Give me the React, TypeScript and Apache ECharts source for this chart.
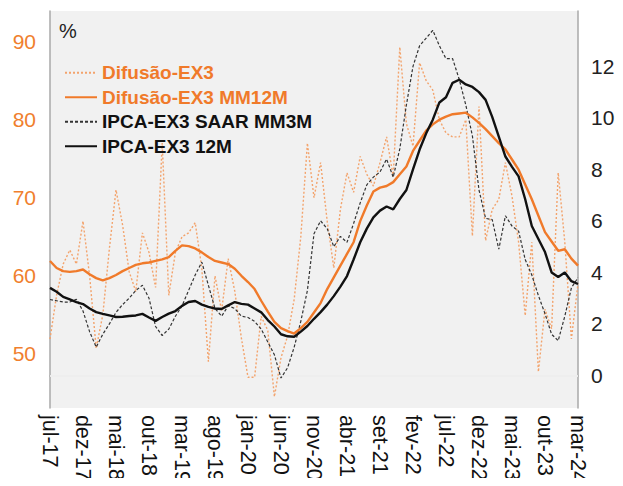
import React, { useEffect, useRef } from "react";
import * as echarts from "echarts";

const monthAbbr = ["jan", "fev", "mar", "abr", "mai", "jun", "jul", "ago", "set", "out", "nov", "dez"];
// monthly categories from jul-17 to mar-24
const categories: string[] = [];
for (let y = 2017, m = 6; y < 2024 || (y === 2024 && m <= 2); ) {
  categories.push(`${monthAbbr[m]}-${String(y).slice(2)}`);
  m++;
  if (m === 12) { m = 0; y++; }
}

const difusao = [
  51.9, 57.5, 61.5, 63.3, 61.5, 67, 60, 50.7, 55, 63.5,
  71, 66.5, 60.5, 58, 65.5, 63, 58.5, 77, 57.5, 63,
  65, 65.5, 66.8, 61, 49, 60, 55.5, 62.2, 58, 52,
  47, 47, 54.8, 53, 44.5, 49.5, 52.3, 57, 65, 77,
  70, 74.5, 67, 61, 68.5, 73.2, 70.7, 75.3, 73, 71.5,
  74.5, 77.8, 72.7, 89.3, 79.5, 76.6, 87.3, 85, 83.8, 80,
  78.3, 77.8, 77.8, 80, 65.1, 81.7, 64.5, 68.5, 69.8, 74.5,
  70.2, 64.3, 54.9, 64.3, 47.7, 55.7, 53.2, 73.2, 64.3, 51.9,
  59,
];

const difusaoMM12 = [
  61.9, 61.0, 60.6, 60.5, 60.6, 60.8, 60.2, 59.7, 59.4, 59.7,
  60.1, 60.6, 61.0, 61.4, 61.6, 61.7, 61.9, 62.1, 62.4, 63.2,
  63.9, 63.8, 63.5, 63.0, 62.4, 61.9, 61.7, 61.5, 60.9, 60.0,
  59.2, 58.3, 56.8, 55.4, 54.1, 53.3, 52.9, 52.6, 53.3, 54.1,
  55.3, 56.5, 58.3, 59.8, 61.3, 62.8, 64.3, 67.0, 69.0, 70.8,
  71.3, 71.5, 72.0, 73.0, 74.0, 76.0, 77.3, 78.6, 79.4, 80.0,
  80.4, 80.7, 80.8, 80.9, 80.3, 79.6, 78.8, 77.9, 77.0, 76.2,
  74.9, 73.6, 71.7, 69.8, 67.7, 65.6, 64.4, 63.2, 63.4, 62.2,
  61.3,
];

const ipcaSaar = [
  2.95, 2.9, 2.85, 2.85, 2.96, 2.5, 1.7, 1.1, 1.6, 2.0,
  2.45, 2.75, 3.0, 3.3, 3.5, 3.0, 1.9, 1.55, 1.8, 2.3,
  2.7, 3.3, 3.9, 4.4, 3.5, 2.6, 2.3, 2.7, 2.6, 2.3,
  2.25, 2.1, 1.8, 1.3, 0.8, -0.1, 0.3, 1.1, 2.1, 3.3,
  5.5, 6.0, 5.7, 5.0, 5.4, 5.17, 5.9, 6.7, 7.4, 7.7,
  7.9, 8.4, 7.7, 8.8, 10.5, 12.0, 12.8, 13.1, 13.4, 12.8,
  12.3, 12.3, 11.5, 10.5, 9.3, 7.2, 6.1, 6.05, 4.9, 6.2,
  5.8, 5.6, 4.5, 3.9, 3.1, 2.4, 1.6, 1.35, 2.3, 3.4,
  3.8,
];

const ipca12m = [
  3.40, 3.25, 3.05, 2.95, 2.85, 2.77, 2.60, 2.46, 2.39, 2.33,
  2.27, 2.28, 2.31, 2.33, 2.39, 2.25, 2.12, 2.27, 2.40, 2.50,
  2.70, 2.85, 2.89, 2.75, 2.66, 2.60, 2.58, 2.72, 2.85, 2.78,
  2.75, 2.60, 2.45, 2.15, 1.90, 1.60, 1.52, 1.50, 1.70, 1.92,
  2.20, 2.46, 2.75, 3.08, 3.45, 3.86, 4.50, 5.17, 5.70, 6.14,
  6.40, 6.56, 6.45, 6.85, 7.20, 8.00, 8.77, 9.40, 9.93, 10.60,
  10.80, 11.36, 11.48, 11.30, 11.20, 11.00, 10.70, 10.04, 9.27, 8.50,
  8.10, 7.73, 6.84, 5.80, 5.30, 4.79, 4.00, 3.82, 4.00, 3.66,
  3.55,
];

const leftTicks = [50, 60, 70, 80, 90];
const rightTicks = [0, 2, 4, 6, 8, 10, 12];

const seriesNames = ["Difusão-EX3", "Difusão-EX3 MM12M", "IPCA-EX3 SAAR MM3M", "IPCA-EX3 12M"];

const ORANGE = "#F07A2A";
const ORANGE_LIGHT = "#F3A36C";
const FONT = "'Liberation Sans', Arial, sans-serif";

export default function App() {
  const ref = useRef<HTMLDivElement>(null);
  useEffect(() => {
    if (!ref.current) return;
    const chart = echarts.init(ref.current, undefined, { renderer: "svg" });
    chart.setOption({
      animation: false,
      textStyle: { fontFamily: FONT },
      grid: {
        left: 50,
        right: 45,
        top: 11,
        bottom: 77,
        show: true,
        backgroundColor: "#F1F1F1",
        borderWidth: 0,
      },
      legend: {
        orient: "vertical",
        left: 64,
        top: 63,
        padding: 0,
        itemWidth: 32,
        itemHeight: 14,
        itemGap: 5,
        itemStyle: { opacity: 0 },
        textStyle: { fontFamily: FONT, fontSize: 19, fontWeight: "bold", lineHeight: 19.5 },
        data: [
          { name: seriesNames[0], textStyle: { color: ORANGE } },
          { name: seriesNames[1], textStyle: { color: ORANGE } },
          { name: seriesNames[2], textStyle: { color: "#111" } },
          { name: seriesNames[3], textStyle: { color: "#111" } },
        ],
      },
      graphic: [
        {
          type: "text",
          left: 59,
          top: 21,
          style: { text: "%", fontSize: 20, fontFamily: FONT, fill: "#222" },
        },
      ],
      xAxis: {
        type: "category",
        data: categories,
        boundaryGap: false,
        axisLine: { show: true, lineStyle: { color: "#A8A8A8", width: 1.5 } },
        axisTick: { show: false },
        axisLabel: {
          interval: 4,
          rotate: -90,
          margin: 7,
          fontSize: 21.5,
          color: "#111",
          fontFamily: FONT,
        },
        splitLine: { show: false },
      },
      yAxis: [
        {
          type: "value",
          position: "left",
          min: 43.07,
          max: 93.93,
          axisLine: { show: true, lineStyle: { color: "#A8A8A8", width: 1.5 } },
          axisTick: { show: false },
          splitLine: { show: false },
          axisLabel: {
            customValues: leftTicks,
            fontSize: 21,
            color: "#F07F2E",
            margin: 14,
            fontFamily: FONT,
          },
        },
        {
          type: "value",
          position: "right",
          min: -1.26,
          max: 14.15,
          axisLine: { show: true, lineStyle: { color: "#A8A8A8", width: 1.5 } },
          axisTick: { show: false },
          splitLine: { show: false },
          axisLabel: {
            customValues: rightTicks,
            fontSize: 21,
            color: "#222",
            margin: 13,
            fontFamily: FONT,
          },
        },
      ],
      series: [
        {
          name: seriesNames[0],
          type: "line",
          yAxisIndex: 0,
          data: difusao,
          symbol: "none",
          itemStyle: { color: ORANGE_LIGHT },
          lineStyle: { color: ORANGE_LIGHT, width: 1.4, type: [2, 2] },
          z: 2,
        },
        {
          name: seriesNames[1],
          type: "line",
          yAxisIndex: 0,
          data: difusaoMM12,
          symbol: "none",
          itemStyle: { color: ORANGE },
          lineStyle: { color: ORANGE, width: 2.4 },
          z: 4,
        },
        {
          name: seriesNames[2],
          type: "line",
          yAxisIndex: 1,
          data: ipcaSaar,
          symbol: "none",
          itemStyle: { color: "#333" },
          lineStyle: { color: "#333", width: 1.2, type: [3, 2] },
          z: 3,
          markLine: {
            silent: true,
            symbol: "none",
            label: { show: false },
            lineStyle: { color: "#FFFFFF", width: 1.5, type: "solid" },
            data: [{ yAxis: 0 }],
            z: 1,
          },
        },
        {
          name: seriesNames[3],
          type: "line",
          yAxisIndex: 1,
          data: ipca12m,
          symbol: "none",
          itemStyle: { color: "#111" },
          lineStyle: { color: "#111", width: 2.4 },
          z: 5,
        },
      ],
    });
    return () => chart.dispose();
  }, []);
  return <div ref={ref} style={{ width: 623, height: 486, margin: -8 }} />;
}
